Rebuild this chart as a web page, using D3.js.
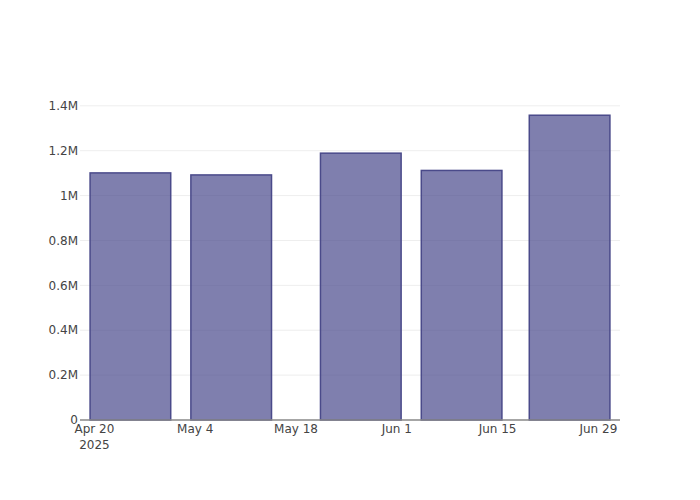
<!DOCTYPE html>
<html>
<head>
<meta charset="utf-8">
<script src="https://cdn.jsdelivr.net/npm/d3@7"></script>
<style>
  body { margin: 0; background: #fff; }
  svg { display: block; font-family: "DejaVu Sans", sans-serif; }
</style>
</head>
<body>
<svg id="chart" width="700" height="500"></svg>
<script>
// ---- data ----
const dates = ["2025-04-25", "2025-05-09", "2025-05-27", "2025-06-10", "2025-06-25"];
const values = [1101000, 1092000, 1189000, 1112000, 1358000];
const xTickDates = ["2025-04-20", "2025-05-04", "2025-05-18", "2025-06-01", "2025-06-15", "2025-06-29"];
const xTickLabels = ["Apr 20", "May 4", "May 18", "Jun 1", "Jun 15", "Jun 29"];
const yTickValues = [0, 200000, 400000, 600000, 800000, 1000000, 1200000, 1400000];
const yTickLabels = ["0", "0.2M", "0.4M", "0.6M", "0.8M", "1M", "1.2M", "1.4M"];
const xDomain = ["2025-04-18", "2025-07-02"];

const parse = s => { const [y, m, d] = s.split("-").map(Number); return new Date(Date.UTC(y, m - 1, d)); };

const margin = { left: 80, right: 80, top: 100, bottom: 80 };
const W = 700, H = 500;
const svg = d3.select("#chart");

const x = d3.scaleUtc().domain(xDomain.map(parse)).range([margin.left, W - margin.right]);
const y = d3.scaleLinear().domain([0, d3.max(values) * 1.05]).range([H - margin.bottom, margin.top]);

// bar width: 80% of min spacing
const dts = dates.map(parse);
let minGap = Infinity;
for (let i = 1; i < dts.length; i++) minGap = Math.min(minGap, dts[i] - dts[i - 1]);
const barDur = minGap * 0.8;

// grid
svg.append("g").selectAll("line").data(yTickValues.filter(v => v > 0)).join("line")
  .attr("x1", margin.left).attr("x2", W - margin.right)
  .attr("y1", d => y(d)).attr("y2", d => y(d))
  .attr("stroke", "#eeeeee").attr("stroke-width", 1);

// bars
svg.append("g").selectAll("rect").data(values).join("rect")
  .attr("x", (d, i) => x(new Date(dts[i].getTime() - barDur / 2)))
  .attr("width", (d, i) => x(new Date(dts[i].getTime() + barDur / 2)) - x(new Date(dts[i].getTime() - barDur / 2)))
  .attr("y", d => y(d))
  .attr("height", d => y(0) - y(d))
  .attr("fill", "rgba(72,72,139,0.7)")
  .attr("stroke", "#4a4a8a")
  .attr("stroke-width", 1.5);

// x axis line
svg.append("line")
  .attr("x1", margin.left).attr("x2", W - margin.right)
  .attr("y1", y(0)).attr("y2", y(0))
  .attr("stroke", "#888").attr("stroke-width", 1.5);

// x tick labels
const xt = svg.append("g").attr("font-size", 12).attr("fill", "#444").attr("text-anchor", "middle");
xTickDates.forEach((s, i) => {
  xt.append("text").attr("x", x(parse(s))).attr("y", 433).text(xTickLabels[i]);
  if (i === 0) xt.append("text").attr("x", x(parse(s))).attr("y", 448.5).text("2025");
});

// y tick labels
svg.append("g").attr("font-size", 12).attr("fill", "#444").attr("text-anchor", "end")
  .selectAll("text").data(yTickValues).join("text")
  .attr("x", 78).attr("y", d => y(d)).attr("dy", "0.35em")
  .text((d, i) => yTickLabels[i]);
</script>
</body>
</html>
